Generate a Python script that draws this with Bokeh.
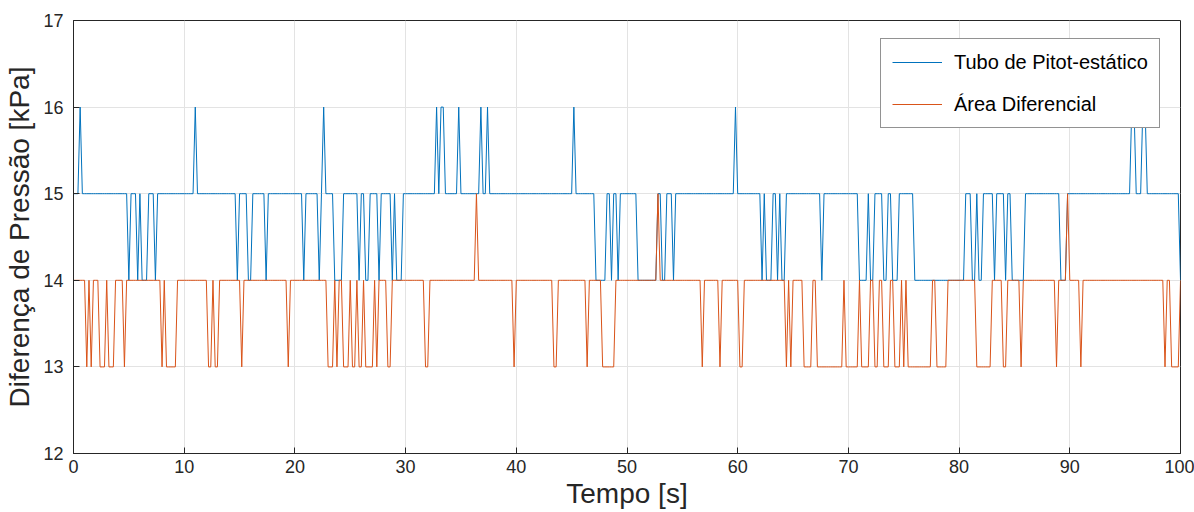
import numpy as np
from bokeh.plotting import figure
from bokeh.models import Legend, LegendItem, Range1d, FixedTicker
from bokeh.embed import file_html
from bokeh.resources import INLINE

# ---- data: change points of each step series ----
# time [s] at which the sampled value switches to the given level [kPa]
blue_change_t = [0, 0.6, 0.8,
                 5.0, 5.2, 5.8, 6.0, 6.2, 6.8, 7.4, 7.6,
                 11.0, 11.2,
                 14.8, 15.0, 15.8, 16.2,
                 17.4, 17.6,
                 20.8, 21.0,
                 22.2, 22.4, 22.6, 22.8,
                 23.6, 24.4,
                 25.8, 26.0, 26.4, 26.8,
                 27.6, 27.8,
                 28.8, 29.0, 29.2, 29.8,
                 32.8, 33.0, 33.2, 33.6,
                 34.8, 35.0,
                 36.8, 37.0, 37.4, 37.6,
                 45.2, 45.4,
                 47.2, 48.2, 48.6, 48.8, 49.2, 49.4,
                 51.0, 52.8, 53.2, 53.6, 54.2, 54.4,
                 59.8, 60.0,
                 62.2, 62.4, 62.6, 63.2, 63.6, 63.8, 64.0, 64.4,
                 67.6, 67.8,
                 71.0, 71.8, 72.0, 72.4, 73.2, 73.6, 74.0, 74.6,
                 76.0, 80.6, 81.2, 81.6, 81.8, 82.2,
                 83.2, 83.4, 84.2, 84.4, 84.8, 86.0,
                 89.2, 89.8,
                 95.6, 96.0, 96.6, 97.0,
                 100.0]
blue_change_v = [15, 16, 15,
                 14, 15, 14, 15, 14, 15, 14, 15,
                 16, 15,
                 14, 15, 14, 15,
                 14, 15,
                 14, 15,
                 14, 15, 16, 15,
                 14, 15,
                 14, 15, 14, 15,
                 14, 15,
                 14, 15, 14, 15,
                 16, 15, 16, 15,
                 16, 15,
                 16, 15, 16, 15,
                 16, 15,
                 14, 15, 14, 15, 14, 15,
                 14, 15, 14, 15, 14, 15,
                 16, 15,
                 14, 15, 14, 15, 14, 15, 14, 15,
                 14, 15,
                 14, 15, 14, 15, 14, 15, 14, 15,
                 14, 15, 14, 15, 14, 15,
                 14, 15, 14, 15, 14, 15,
                 14, 15,
                 16, 15, 16, 15,
                 14]

orange_change_t = [0, 1.2, 1.4, 1.6, 1.8, 2.4, 3.0, 3.2, 3.8, 4.6, 4.8,
                   8.0, 8.2, 8.4, 9.4,
                   12.2, 12.6, 12.8, 13.2,
                   15.2, 15.4,
                   19.4, 19.6,
                   23.0, 23.6, 23.8, 24.0, 24.4, 25.0, 25.2, 25.6, 25.8, 26.2,
                   26.4, 27.2, 27.4, 27.6, 28.4, 28.8,
                   31.8, 32.2,
                   36.4, 36.6,
                   39.8, 40.0,
                   43.4, 43.8,
                   46.4, 46.6,
                   47.8, 49.0,
                   52.8, 53.0,
                   56.8, 57.0,
                   58.4, 58.6,
                   60.2, 60.6,
                   64.4, 64.6, 64.8, 65.0,
                   66.0, 66.8, 67.2,
                   69.6, 69.8,
                   71.0, 71.2,
                   72.0, 72.4, 72.8, 73.2, 73.8, 74.2, 74.8, 75.0, 75.2, 75.4,
                   77.6, 78.0, 79.0,
                   81.6, 83.0,
                   84.0, 84.4,
                   85.6, 85.8,
                   88.8, 89.0,
                   89.8, 90.0,
                   91.0, 91.2,
                   98.6, 98.8, 99.2, 100.0]
orange_change_v = [14, 13, 14, 13, 14, 13, 14, 13, 14, 13, 14,
                   13, 14, 13, 14,
                   13, 14, 13, 14,
                   13, 14,
                   13, 14,
                   13, 14, 13, 14, 13, 14, 13, 14, 13, 14,
                   13, 14, 13, 14, 13, 14,
                   13, 14,
                   15, 14,
                   13, 14,
                   13, 14,
                   13, 14,
                   13, 14,
                   15, 14,
                   13, 14,
                   13, 14,
                   13, 14,
                   13, 14, 13, 14,
                   13, 14, 13,
                   14, 13,
                   14, 13,
                   14, 13, 14, 13, 14, 13, 14, 13, 14, 13,
                   14, 13, 14,
                   13, 14,
                   13, 14,
                   13, 14,
                   13, 14,
                   15, 14,
                   13, 14,
                   13, 14, 13, 14]

series_names = ["Tubo de Pitot-estático", "Área Diferencial"]
x_ticks = [0, 10, 20, 30, 40, 50, 60, 70, 80, 90, 100]
y_ticks = [12, 13, 14, 15, 16, 17]
sample_step = 0.2

# sampled time axis and held (step) values
t = np.round(np.arange(0, 100 + sample_step / 2, sample_step), 1)


def expand(ct, cv):
    idx = np.searchsorted(np.array(ct), t + 1e-6, side="right") - 1
    return np.array(cv, dtype=float)[idx]


blue = expand(blue_change_t, blue_change_v)
orange = expand(orange_change_t, orange_change_v)

FONT = "Liberation Sans"
DARK = "#262626"

p = figure(width=1194, height=512,
           x_range=Range1d(0, 100), y_range=Range1d(12, 17),
           output_backend="svg", toolbar_location=None,
           min_border_left=73, min_border_right=14,
           min_border_top=20, min_border_bottom=59,
           background_fill_color="white", border_fill_color="white")

p.xaxis.ticker = FixedTicker(ticks=x_ticks)
p.yaxis.ticker = FixedTicker(ticks=y_ticks)
p.xgrid.ticker = FixedTicker(ticks=x_ticks)
p.ygrid.ticker = FixedTicker(ticks=y_ticks)
p.xaxis.axis_label = "Tempo [s]"
p.yaxis.axis_label = "Diferença de Pressão [kPa]"

for ax in (p.xaxis[0], p.yaxis[0]):
    ax.axis_line_color = DARK
    ax.major_tick_line_color = DARK
    ax.major_tick_in = 6
    ax.major_tick_out = 0
    ax.minor_tick_line_color = None
    ax.major_label_text_font = FONT
    ax.major_label_text_font_size = "18px"
    ax.major_label_text_color = DARK
    ax.axis_label_text_font = FONT
    ax.axis_label_text_font_size = "28px"
    ax.axis_label_text_font_style = "normal"
    ax.axis_label_text_color = DARK

p.xaxis.major_label_standoff = 6
p.xaxis.axis_label_standoff = 2
p.yaxis.major_label_standoff = 10
p.yaxis.axis_label_standoff = 5

for g in (p.xgrid[0], p.ygrid[0]):
    g.grid_line_color = "#e3e3e3"
    g.grid_line_width = 1

p.outline_line_color = DARK
p.outline_line_width = 1
p.outline_line_alpha = 1

r_blue = p.line(t, blue, line_color="#0072BD", line_width=1)
r_orange = p.line(t, orange, line_color="#D95319", line_width=1)

legend = Legend(items=[LegendItem(label=series_names[0], renderers=[r_blue]),
                       LegendItem(label=series_names[1], renderers=[r_orange])],
                location=(807, 325), margin=0, padding=11, spacing=18,
                glyph_width=50, glyph_height=24, label_height=24,
                label_standoff=12, label_text_font=FONT,
                label_text_font_size="20px", label_text_color="black",
                border_line_color=DARK, border_line_width=1,
                background_fill_color="white", background_fill_alpha=1)
p.add_layout(legend)

open("out.html", "w").write(file_html(p, INLINE))
